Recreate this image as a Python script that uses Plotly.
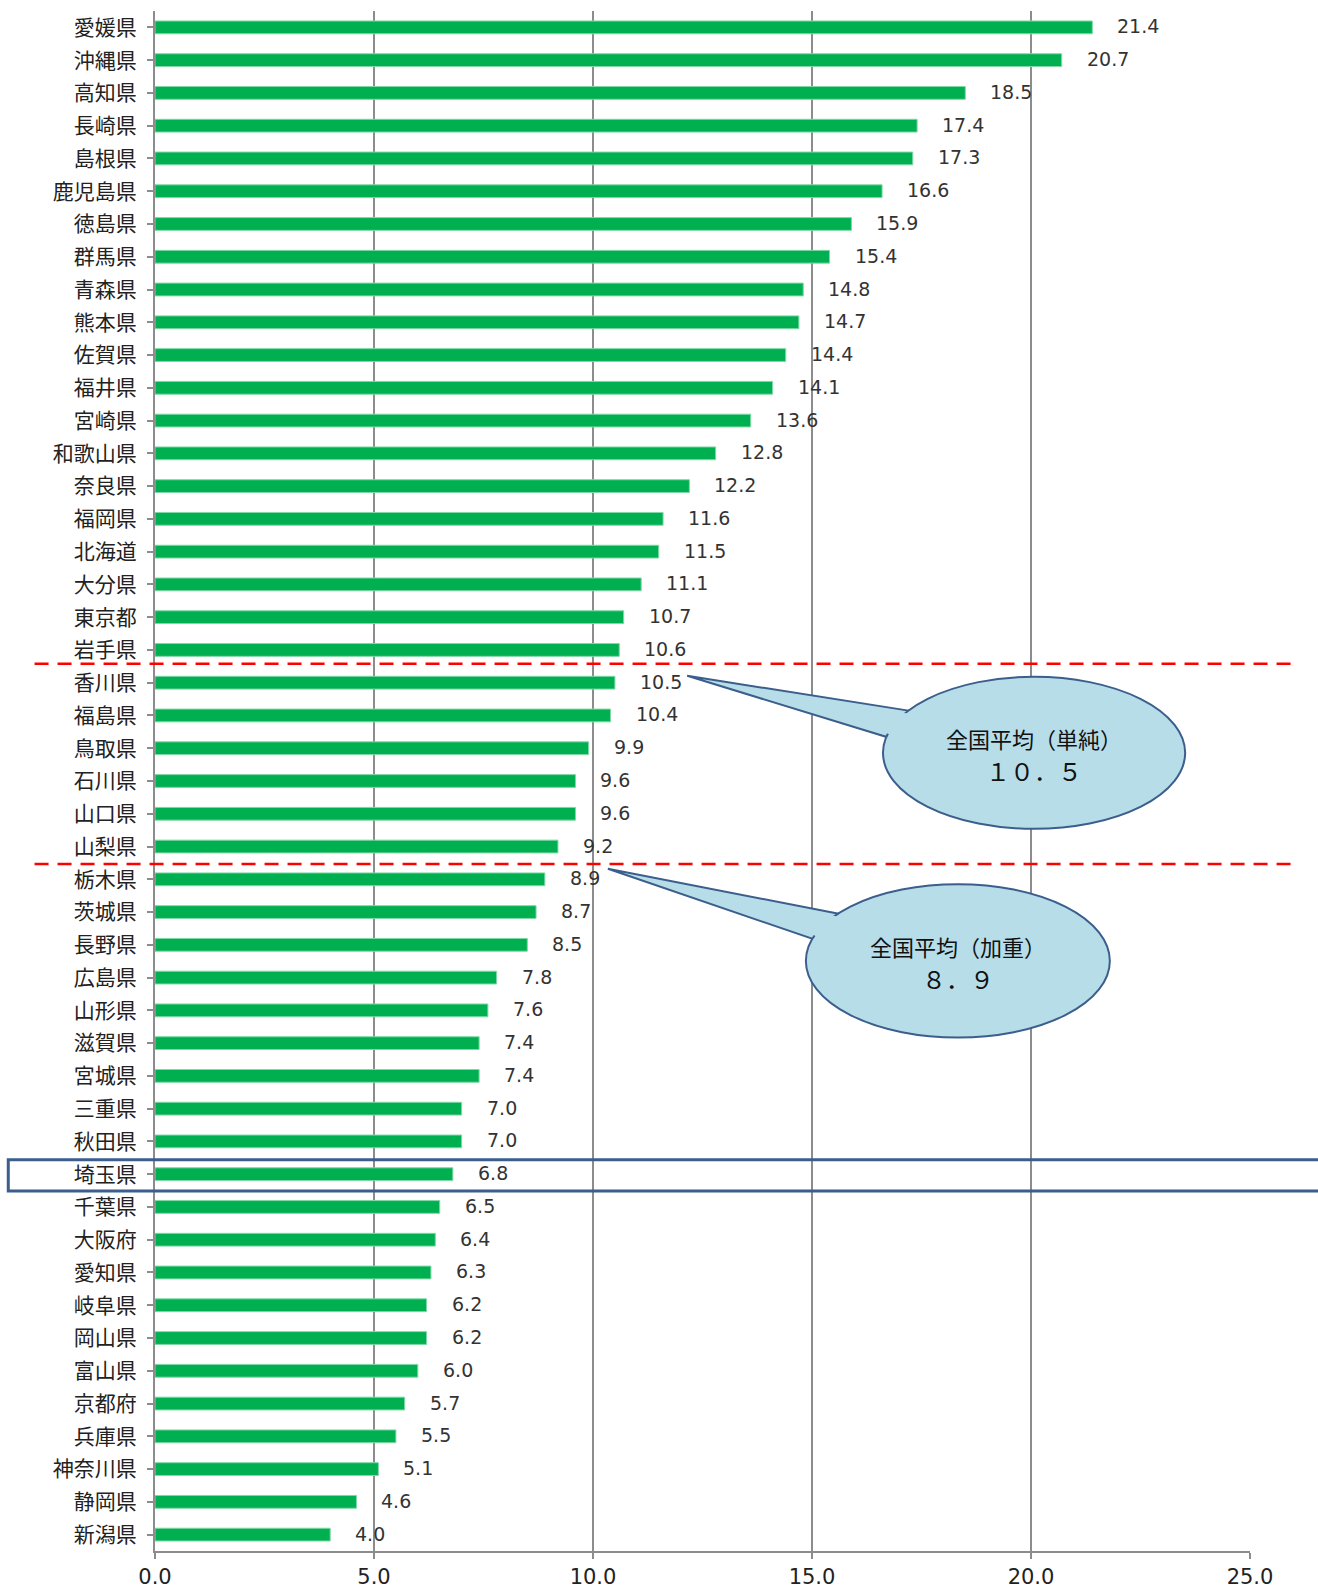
import plotly.graph_objects as go

FONT = "Noto Sans CJK JP"
NUM_FONT = "DejaVu Sans"
BAR_COLOR = "#00B050"
GRID_COLOR = "#8C8C8C"
CALLOUT_FILL = "#B7DDE8"
CALLOUT_LINE = "#3B5E8C"

prefectures = [
    "愛媛県", "沖縄県", "高知県", "長崎県", "島根県", "鹿児島県", "徳島県", "群馬県",
    "青森県", "熊本県", "佐賀県", "福井県", "宮崎県", "和歌山県", "奈良県", "福岡県",
    "北海道", "大分県", "東京都", "岩手県", "香川県", "福島県", "鳥取県", "石川県",
    "山口県", "山梨県", "栃木県", "茨城県", "長野県", "広島県", "山形県", "滋賀県",
    "宮城県", "三重県", "秋田県", "埼玉県", "千葉県", "大阪府", "愛知県", "岐阜県",
    "岡山県", "富山県", "京都府", "兵庫県", "神奈川県", "静岡県", "新潟県",
]
values = [
    21.4, 20.7, 18.5, 17.4, 17.3, 16.6, 15.9, 15.4,
    14.8, 14.7, 14.4, 14.1, 13.6, 12.8, 12.2, 11.6,
    11.5, 11.1, 10.7, 10.6, 10.5, 10.4, 9.9, 9.6,
    9.6, 9.2, 8.9, 8.7, 8.5, 7.8, 7.6, 7.4,
    7.4, 7.0, 7.0, 6.8, 6.5, 6.4, 6.3, 6.2,
    6.2, 6.0, 5.7, 5.5, 5.1, 4.6, 4.0,
]
x_ticks = [0, 5, 10, 15, 20, 25]
x_ticklabels = ["0.0", "5.0", "10.0", "15.0", "20.0", "25.0"]

avg_simple = 10.5
avg_weighted = 8.9
avg_simple_label = "全国平均（単純）"
avg_simple_text = "１０．５"
avg_weighted_label = "全国平均（加重）"
avg_weighted_text = "８．９"
highlight = "埼玉県"

idx = list(range(len(prefectures)))

fig = go.Figure()

fig.add_trace(
    go.Bar(
        x=values,
        y=idx,
        orientation="h",
        width=0.39,
        marker=dict(color=BAR_COLOR, line=dict(color="#7FD8A7", width=1)),
        hoverinfo="x",
        showlegend=False,
    )
)

# data labels
for i, v in enumerate(values):
    fig.add_annotation(
        x=v,
        y=i,
        xref="x",
        yref="y",
        text=f"{v:.1f}",
        showarrow=False,
        xanchor="left",
        xshift=23,
        yshift=1,
        font=dict(family=NUM_FONT, size=19, color="#333333"),
    )


def boundary(avg):
    # first prefecture at or below the average -> line above it
    for i, v in enumerate(values):
        if v <= avg:
            return i - 0.5
    return len(values) - 0.5


for avg, off in ((avg_simple, -0.08), (avg_weighted, 0.03)):
    yb = boundary(avg) + off
    fig.add_shape(
        type="line",
        xref="paper",
        yref="y",
        x0=-0.11,
        x1=1.042,
        y0=yb,
        y1=yb,
        line=dict(color="#FF0000", width=2.5, dash="14px,9px"),
    )

# highlight box
hi = prefectures.index(highlight)
fig.add_shape(
    type="rect",
    xref="paper",
    yref="y",
    x0=-0.134,
    x1=1.08,
    y0=hi - 0.44,
    y1=hi + 0.51,
    line=dict(color=CALLOUT_LINE, width=3),
    fillcolor="rgba(0,0,0,0)",
)


def callout(cx, cy, rx, ry, tip, base1, base2, label, num):
    wedge = f"M {base1[0]},{base1[1]} L {tip[0]},{tip[1]} L {base2[0]},{base2[1]} Z"
    fig.add_shape(
        type="path",
        path=wedge,
        xref="x",
        yref="y",
        fillcolor=CALLOUT_FILL,
        line=dict(color=CALLOUT_LINE, width=2),
    )
    fig.add_shape(
        type="circle",
        xref="x",
        yref="y",
        x0=cx - rx,
        x1=cx + rx,
        y0=cy - ry,
        y1=cy + ry,
        fillcolor=CALLOUT_FILL,
        line=dict(color=CALLOUT_LINE, width=2),
    )
    # cover the ellipse border where the tail joins
    mx = (base1[0] + base2[0]) / 2
    my = (base1[1] + base2[1]) / 2
    inner = (
        f"M {base1[0] + 0.05},{base1[1] + 0.08} L {tip[0] + (mx - tip[0]) * 0.7},{tip[1] + (my - tip[1]) * 0.7} "
        f"L {base2[0] + 0.12},{base2[1] - 0.05} L {mx + 0.5},{my + 0.2} Z"
    )
    fig.add_shape(
        type="path",
        path=inner,
        xref="x",
        yref="y",
        fillcolor=CALLOUT_FILL,
        line=dict(width=0),
    )
    fig.add_annotation(
        x=cx,
        y=cy - 0.45,
        xref="x",
        yref="y",
        text=label,
        showarrow=False,
        font=dict(family=FONT, size=22, color="#111111"),
    )
    fig.add_annotation(
        x=cx,
        y=cy + 0.53,
        xref="x",
        yref="y",
        text=num,
        showarrow=False,
        font=dict(family=FONT, size=24, color="#111111"),
    )


callout(20.07, 22.14, 3.45, 2.32, (12.15, 19.79), (17.24, 20.86), (16.69, 21.65),
        avg_simple_label, avg_simple_text)
callout(18.33, 28.49, 3.47, 2.34, (10.34, 25.68), (15.64, 27.06), (15.02, 27.82),
        avg_weighted_label, avg_weighted_text)

fig.update_layout(
    width=1318,
    height=1590,
    margin=dict(l=155, r=68, t=11, b=39),
    plot_bgcolor="white",
    paper_bgcolor="white",
    font=dict(family=FONT, color="#222222"),
)

fig.update_xaxes(
    range=[0, 25],
    tickvals=x_ticks,
    ticktext=x_ticklabels,
    showgrid=True,
    gridcolor=GRID_COLOR,
    gridwidth=2,
    zeroline=False,
    showline=True,
    linecolor=GRID_COLOR,
    linewidth=2,
    ticks="outside",
    ticklen=6,
    tickwidth=2,
    tickcolor=GRID_COLOR,
    ticklabelstandoff=0,
    automargin=False,
    tickfont=dict(family=NUM_FONT, size=21, color="#222222"),
)

fig.update_yaxes(
    range=[len(prefectures) - 0.5, -0.5],
    tickvals=idx,
    ticktext=prefectures,
    showgrid=False,
    zeroline=False,
    showline=True,
    linecolor=GRID_COLOR,
    linewidth=2,
    ticks="outside",
    tickson="boundaries",
    ticklen=6,
    tickwidth=2,
    tickcolor=GRID_COLOR,
    ticklabelstandoff=6,
    automargin=False,
    tickfont=dict(family=FONT, size=21, color="#222222"),
)

fig.write_html(
    "out.html",
    config={"displayModeBar": False},
    post_script="document.body.style.margin='0';document.body.style.overflow='hidden';",
)
